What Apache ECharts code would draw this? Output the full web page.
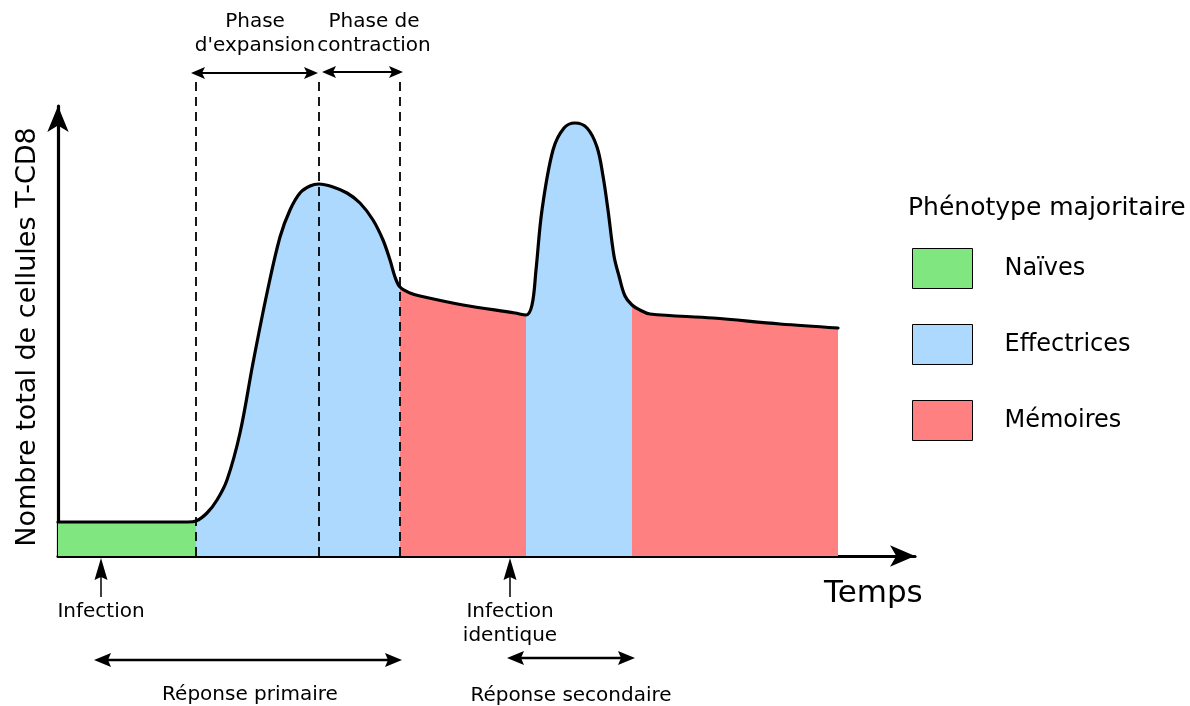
<!DOCTYPE html>
<html><head><meta charset="utf-8">
<script src="https://cdn.jsdelivr.net/npm/echarts@6/dist/echarts.min.js"></script>
<style>html,body{margin:0;padding:0;background:#fff}#chart{width:1190px;height:706px}</style>
</head><body><div id="chart"></div>
<script>
// ---- data (x: time units, y: cell count units) ----
const timeValues = [0,130,138,149,159,169,182,195,209,222,232,242,252,261,275,289,302,315,325,332,337,342,352,362,405,457,468,474,478,484,495,506,517,529,539,545,550,556,561,567,574,582,592,655,722,780];
const cellCounts = [34,34,35,43,56,76,123,193,263,319,346,363,370,372,369,363,353,336,316,296,279,269,263,260,251,243,241,251,286,346,406,428,433,428,409,380,346,300,280,260,251,246,242,238,232,228];
const phaseBounds = [0,138,342,468,574,780];
const phaseTypes = ['Naïves','Effectrices','Mémoires','Effectrices','Mémoires'];
const phenotypeNames = ['Naïves','Effectrices','Mémoires'];
const phenotypeColors = ['#80e680','#acd9fd','#ff8080'];
const legendTitle = 'Phénotype majoritaire';
const xAxisName = 'Temps';
const yAxisName = 'Nombre total de cellules T-CD8';
const phaseMarkers = [138, 261, 342];
const phaseMarkerTop = 474;
// [start, end, arrow y, label x, label y, text]
const phaseSpans = [[133,260,483,197,522,"Phase\nd'expansion"],[264,345,484,316,522,'Phase de\ncontraction']];
// [time, label]
const infectionTimes = [[43,'Infection'],[452,'Infection\nidentique']];
const infectionArrow = [-2,-41,-44];
// [start, end, arrow y, label x, label y, text]
const responseSpans = [[36,344,-104,192,-139,'Réponse primaire'],[449,577,-102,513,-140,'Réponse secondaire']];

const FONT = 'DejaVu Sans';
const chart = echarts.init(document.getElementById('chart'));

function fillData(name){
  const data = [];
  for (let k = 0; k < phaseTypes.length; k++){
    if (phaseTypes[k] !== name) continue;
    if (data.length) data.push([phaseBounds[k], null]);
    for (let i = 0; i < timeValues.length; i++){
      if (timeValues[i] >= phaseBounds[k] && timeValues[i] <= phaseBounds[k+1]) data.push([timeValues[i], cellCounts[i]]);
    }
  }
  return data;
}

const SMOOTH = 0.35;
const series = phenotypeNames.map((n, i) => ({
  type: 'line', name: n, color: phenotypeColors[i], data: fillData(n), smooth: SMOOTH,
  symbol: 'none', silent: true, z: 2,
  lineStyle: {width: 0, opacity: 0},
  areaStyle: {color: phenotypeColors[i], opacity: 1}
}));
series.push({
  type: 'line', name: 'Total', data: timeValues.map((t, i) => [t, cellCounts[i]]), smooth: SMOOTH,
  symbol: 'none', silent: true, z: 3,
  lineStyle: {color: '#000', width: 3.2, join: 'round', cap: 'round'}
});

chart.setOption({
  animation: false,
  backgroundColor: '#fff',
  title: {text: legendTitle, left: 908, top: 196, padding: 0,
    textStyle: {fontFamily: FONT, fontSize: 25, fontWeight: 'normal', color: '#000'}},
  legend: {
    data: phenotypeNames.map((n, i) => ({name: n, itemStyle: {color: phenotypeColors[i]}})),
    orient: 'vertical', left: 912, top: 248, padding: 0,
    itemWidth: 60, itemHeight: 40, itemGap: 35, icon: 'rect', selectedMode: false,
    itemStyle: {borderColor: '#000', borderWidth: 1},
    textStyle: {fontFamily: FONT, fontSize: 24, color: '#000', padding: [0,0,0,27]}
  },
  grid: {left: 58, right: 275, top: 106, bottom: 150},
  xAxis: {
    type: 'value', min: 0, max: 857,
    name: xAxisName, nameLocation: 'end', nameGap: -91,
    nameTextStyle: {fontFamily: FONT, fontSize: 31, color: '#000', verticalAlign: 'top', lineHeight: 76},
    axisLine: {show: true, symbol: ['none','arrow'], symbolSize: [16,25], lineStyle: {color: '#000', width: 3.2}},
    axisTick: {show: false}, axisLabel: {show: false}, splitLine: {show: false}
  },
  yAxis: {
    type: 'value', min: 0, max: 450,
    name: yAxisName, nameLocation: 'middle', nameGap: 17, nameRotate: 90,
    nameTextStyle: {fontFamily: FONT, fontSize: 27, color: '#000', padding: [0,12,0,0]},
    axisLine: {show: true, symbol: ['none','arrow'], symbolSize: [16,26], lineStyle: {color: '#000', width: 3.2}},
    axisTick: {show: false}, axisLabel: {show: false}, splitLine: {show: false}
  },
  series: series
});

// ---- annotations placed through the chart's own scales ----
const P = (x, y) => chart.convertToPixel({gridIndex: 0}, [x, y]);
const ink = '#000';
const els = [];
function head(tip, ux, uy, len, hw, notch){
  const nx = -uy, ny = ux;
  return {type: 'polygon', z: 100, silent: true, shape: {points: [
    [tip[0], tip[1]],
    [tip[0]-ux*len+nx*hw, tip[1]-uy*len+ny*hw],
    [tip[0]-ux*(len-notch), tip[1]-uy*(len-notch)],
    [tip[0]-ux*len-nx*hw, tip[1]-uy*len-ny*hw]]}, style: {fill: ink}};
}
function line(a, b, w, dash){
  els.push({type: 'line', z: 100, silent: true, shape: {x1: a[0], y1: a[1], x2: b[0], y2: b[1]},
    style: {stroke: ink, lineWidth: w, lineDash: dash || null}});
}
function doubleArrow(a, b, w, len, hw){
  const dx = b[0]-a[0], dy = b[1]-a[1], L = Math.hypot(dx, dy), ux = dx/L, uy = dy/L;
  line([a[0]+ux*6, a[1]+uy*6], [b[0]-ux*6, b[1]-uy*6], w);
  els.push(head(b, ux, uy, len, hw, 3));
  els.push(head(a, -ux, -uy, len, hw, 3));
}
function label(p, text, size, va){
  els.push({type: 'text', z: 100, silent: true, x: p[0], y: p[1],
    style: {text: text, fontFamily: FONT, fontSize: size, fill: ink, align: 'center', verticalAlign: va || 'middle', lineHeight: 24}});
}
phaseMarkers.forEach(x => { const b = P(x, 0), t = P(x, phaseMarkerTop); line([Math.round(b[0]), b[1]], [Math.round(t[0]), t[1]], 1.8, [9, 6]); });
phaseSpans.forEach(s => { doubleArrow(P(s[0], s[2]), P(s[1], s[2]), 2.2, 14, 6); label(P(s[3], s[4]), s[5], 20); });
infectionTimes.forEach(s => {
  const tip = P(s[0], infectionArrow[0]), base = P(s[0], infectionArrow[1]);
  line([base[0], base[1]], [tip[0], tip[1]+12], 1.5);
  els.push(head(tip, 0, -1, 22, 6.5, 3));
  label(P(s[0], infectionArrow[2]), s[1], 20, 'top');
});
responseSpans.forEach(s => { doubleArrow(P(s[0], s[2]), P(s[1], s[2]), 2.6, 17, 7); label(P(s[3], s[4]), s[5], 20); });
chart.setOption({graphic: {elements: els}});
</script></body></html>
